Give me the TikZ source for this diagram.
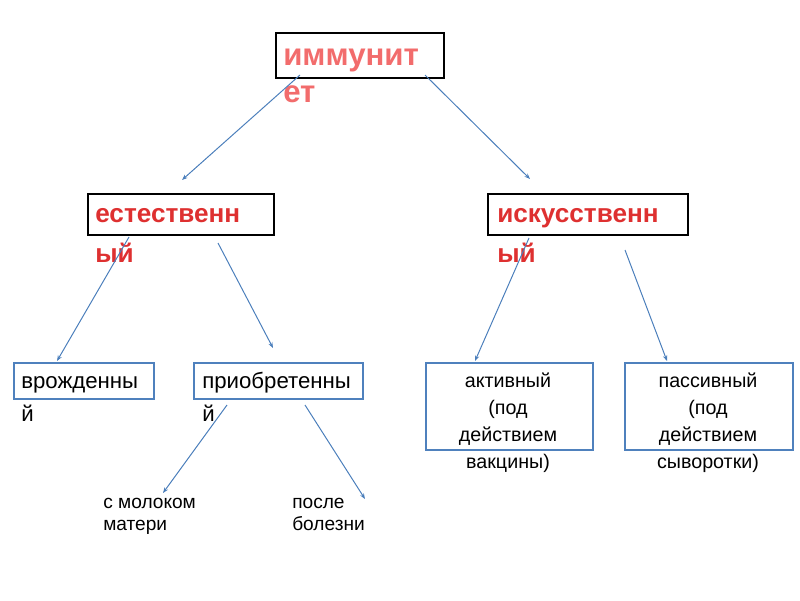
\documentclass[tikz,border=0pt]{standalone}
\usepackage{fontspec}
\setmainfont{Liberation Sans}
\usetikzlibrary{arrows.meta}
\definecolor{linkblue}{RGB}{74,126,187}
\definecolor{boxblue}{RGB}{79,129,189}
\definecolor{pinkred}{RGB}{242,108,108}
\definecolor{darkred}{RGB}{222,48,48}
\tikzset{
  blackbox/.style={draw=black, line width=1.4pt, inner sep=0pt, anchor=north west},
  bluebox/.style={draw=boxblue, line width=1.4pt, inner sep=0pt, anchor=north west},
  link/.style={draw=linkblue, line width=0.7pt, -{Stealth[length=4pt,width=3pt]}}
}
\begin{document}
\begin{tikzpicture}[x=0.025cm, y=-0.025cm]
            \useasboundingbox (0,0) rectangle (800,600);

            % boxes
            \node[blackbox, minimum width=4.2cm, minimum height=1.125cm] (imm) at (275,32) {};
            \node[blackbox, minimum width=4.65cm, minimum height=1.025cm] (est) at (87,193) {};
            \node[blackbox, minimum width=5cm, minimum height=1.025cm] (isk) at (487,193) {};
            \node[bluebox, minimum width=3.5cm, minimum height=0.9cm] (vro) at (13,362) {};
            \node[bluebox, minimum width=4.225cm, minimum height=0.9cm] (pri) at (193,362) {};
            \node[bluebox, minimum width=4.175cm, minimum height=2.175cm] (akt) at (425,362) {};
            \node[bluebox, minimum width=4.2cm, minimum height=2.175cm] (pas) at (624,362) {};

            % texts (base = last line)
            \node[anchor=base west, inner sep=0pt, align=left, text=pinkred,
                  font=\fontsize{22.2}{26}\selectfont\bfseries] (immt) at (283,102) {иммунит\\ет};
            \node[anchor=base west, inner sep=0pt, align=left, text=darkred,
                  font=\fontsize{18.6}{28.4}\selectfont\bfseries] (estt) at (95,262) {естественн\\ый};
            \node[anchor=base west, inner sep=0pt, align=left, text=darkred,
                  font=\fontsize{18.6}{28.4}\selectfont\bfseries] (iskt) at (497,262) {искусственн\\ый};
            \node[anchor=base west, inner sep=0pt, align=left,
                  font=\fontsize{15.8}{23.4}\selectfont] (vrot) at (21,421) {врожденны\\й};
            \node[anchor=base west, inner sep=0pt, align=left,
                  font=\fontsize{15.8}{23.4}\selectfont] (prit) at (202,421) {приобретенны\\й};
            \node[anchor=base, inner sep=0pt, align=center,
                  font=\fontsize{14}{19.2}\selectfont] (aktt) at (508,468) {активный\\(под\\действием\\вакцины)};
            \node[anchor=base, inner sep=0pt, align=center,
                  font=\fontsize{14}{19.2}\selectfont] (past) at (708,468) {пассивный\\(под\\действием\\сыворотки)};
            \node[anchor=base west, inner sep=0pt, align=left,
                  font=\fontsize{13.6}{15.6}\selectfont] (mol) at (103,530) {с молоком\\матери};
            \node[anchor=base west, inner sep=0pt, align=left,
                  font=\fontsize{13.6}{15.6}\selectfont] (bol) at (292,530) {после\\болезни};

            % connector ends
            \coordinate (imm-l) at (300,75);
            \coordinate (imm-r) at (425,75);
            \coordinate (est-in) at (182,180);
            \coordinate (isk-in) at (530,179);
            \coordinate (est-l) at (129,237);
            \coordinate (est-r) at (218,243);
            \coordinate (isk-l) at (529,238);
            \coordinate (isk-r) at (625,250);
            \coordinate (vro-in) at (57,361);
            \coordinate (pri-in) at (273,348);
            \coordinate (akt-in) at (475,361);
            \coordinate (pas-in) at (667,361);
            \coordinate (pri-l) at (227,405);
            \coordinate (pri-r) at (305,405);
            \coordinate (mol-in) at (163,493);
            \coordinate (bol-in) at (365,499);

            \draw[link] (imm-l) -- (est-in);
            \draw[link] (imm-r) -- (isk-in);
            \draw[link] (est-l) -- (vro-in);
            \draw[link] (est-r) -- (pri-in);
            \draw[link] (isk-l) -- (akt-in);
            \draw[link] (isk-r) -- (pas-in);
            \draw[link] (pri-l) -- (mol-in);
            \draw[link] (pri-r) -- (bol-in);
        \end{tikzpicture}
\end{document}
